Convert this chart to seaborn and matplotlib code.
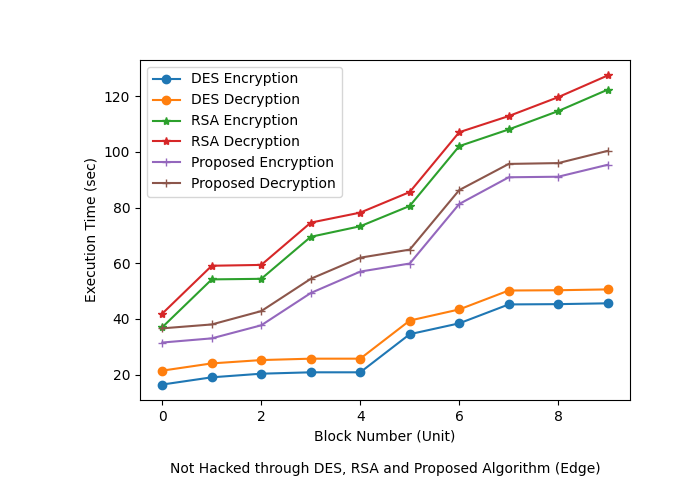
import numpy as np
import matplotlib
matplotlib.use("Agg")
import matplotlib.pyplot as plt
import seaborn as sns

# tiempos (sec)
blocks = [0, 1, 2, 3, 4, 5, 6, 7, 8, 9]
des_enc = [16.4, 19.0, 20.3, 20.8, 20.8, 34.5, 38.4, 45.2, 45.3, 45.6]
des_dec = [21.4, 24.0, 25.2, 25.7, 25.7, 39.4, 43.4, 50.2, 50.3, 50.6]
rsa_enc = [37.0, 54.2, 54.4, 69.5, 73.3, 80.6, 102.1, 108.1, 114.7, 122.4]
rsa_dec = [41.9, 59.1, 59.4, 74.6, 78.2, 85.6, 107.1, 112.9, 119.7, 127.5]
prop_enc = [31.5, 33.0, 37.7, 49.3, 57.0, 59.9, 81.3, 90.9, 91.1, 95.4]
prop_dec = [36.6, 38.0, 42.8, 54.4, 62.0, 64.9, 86.3, 95.7, 96.0, 100.4]

series = [
    ("DES Encryption", des_enc, "o"),
    ("DES Decryption", des_dec, "o"),
    ("RSA Encryption", rsa_enc, "*"),
    ("RSA Decryption", rsa_dec, "*"),
    ("Proposed Encryption", prop_enc, "+"),
    ("Proposed Decryption", prop_dec, "+"),
]
colors = sns.color_palette("tab10")

fig, ax = plt.subplots(figsize=(7, 5), dpi=100)
fig.subplots_adjust(left=0.2, right=0.9, bottom=0.2, top=0.88)

for i, (name, vals, mk) in enumerate(series):
    sns.lineplot(
        x=blocks, y=vals, ax=ax, label=name, color=colors[i],
        marker=mk, markersize=6, markeredgecolor=colors[i],
        markeredgewidth=1.0, linewidth=1.5
    )

ax.set_xlabel("Block Number (Unit)")
ax.set_ylabel("Execution Time (sec)")
# titulo debajo del eje x
ax.set_title("Not Hacked through DES, RSA and Proposed Algorithm (Edge)",
             y=-0.24, fontsize=10)
ax.legend(loc="upper left")

fig.savefig("out.png", dpi=100)
